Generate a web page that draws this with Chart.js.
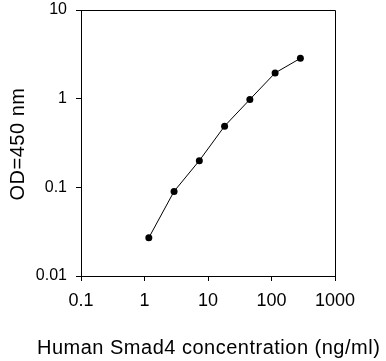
<!DOCTYPE html>
<html>
<head>
<meta charset="utf-8">
<script src="https://cdn.jsdelivr.net/npm/chart.js@4"></script>
<style>
	html, body { margin: 0; padding: 0; background: #fff; }
	#wrap { width: 386px; height: 361px; }
</style>
</head>
<body>
<div id="wrap"><canvas id="chart" width="386" height="361"></canvas></div>
<script>
// standard curve, 2.5x serial dilution
var concentrations = [1.17, 2.92, 7.3, 18.24, 45.6, 114, 285]
var odValues       = [0.027, 0.09, 0.2, 0.49, 0.98, 1.95, 2.85]
var xTicks = [0.1, 1, 10, 100, 1000]
var yTicks = [0.01, 0.1, 1, 10]
var xTitle = "Human Smad4 concentration (ng/ml)"
var yTitle = "OD=450 nm"

var points = concentrations.map(function(c, i) { return { x: c, y: odValues[i] } })

var font = "'Liberation Sans', Arial, sans-serif"

// box round the plot area (top and right sides) + axis titles
// titles drawn by hand so chart.js doesn't squeeze the long x title to the axis width
var boxPlugin = {
	id: "box",
	afterDraw: function(chart) {
		var a = chart.chartArea, ctx = chart.ctx
		ctx.save()
		ctx.strokeStyle = "#000"
		ctx.lineWidth = 1
		ctx.beginPath()
		ctx.moveTo(a.left, a.top + 0.5)
		ctx.lineTo(a.right + 0.5, a.top + 0.5)
		ctx.lineTo(a.right + 0.5, a.bottom + 2)
		ctx.stroke()

		ctx.fillStyle = "#000"
		ctx.font = "20px " + font
		ctx.letterSpacing = "0.5px"
		ctx.textBaseline = "alphabetic"
		ctx.textAlign = "left"
		ctx.fillText(xTitle, 37, 354)

		ctx.translate(24, (a.top + a.bottom) / 2 + 1)
		ctx.rotate(-Math.PI / 2)
		ctx.textAlign = "center"
		ctx.fillText(yTitle, 0, 0)
		ctx.restore()
	}
}

new Chart(document.getElementById("chart"), {
	type: "line",
	data: {
		datasets: [{
			data: points,
			borderColor: "#000",
			borderWidth: 1,
			backgroundColor: "#000",
			pointRadius: 3.5,
			pointHoverRadius: 3.5,
			pointBorderWidth: 0,
			tension: 0,
			fill: false
		}]
	},
	options: {
		responsive: false,
		animation: false,
		events: [],
		layout: { padding: { left: 0, right: 51, top: 10, bottom: 0 } },
		plugins: { legend: { display: false }, tooltip: { enabled: false } },
		scales: {
			x: {
				type: "logarithmic",
				min: 0.1,
				max: 1000,
				afterBuildTicks: function(scale) { scale.ticks = xTicks.map(function(v) { return { value: v } }) },
				afterFit: function(scale) {
					scale.height = 85
					scale.paddingLeft = 0
					scale.paddingRight = 0
				},
				ticks: {
					color: "#000",
					font: { family: font, size: 18 },
					padding: 9,
					maxRotation: 0,
					autoSkip: false,
					callback: function(v) { return String(v) }
				},
				grid: { drawOnChartArea: false, drawTicks: true, tickLength: 5, color: "#000" },
				border: { color: "#000", width: 1 }
			},
			y: {
				type: "logarithmic",
				min: 0.01,
				max: 10,
				afterBuildTicks: function(scale) { scale.ticks = yTicks.map(function(v) { return { value: v } }) },
				afterFit: function(scale) {
					scale.width = 81
					scale.paddingTop = 0
					scale.paddingBottom = 0
				},
				ticks: {
					color: "#000",
					font: { family: font, size: 16 },
					padding: 9,
					autoSkip: false,
					callback: function(v) { return String(v) }
				},
				grid: { drawOnChartArea: false, drawTicks: true, tickLength: 5, color: "#000" },
				border: { color: "#000", width: 1 }
			}
		}
	},
	plugins: [boxPlugin]
})
</script>
</body>
</html>
